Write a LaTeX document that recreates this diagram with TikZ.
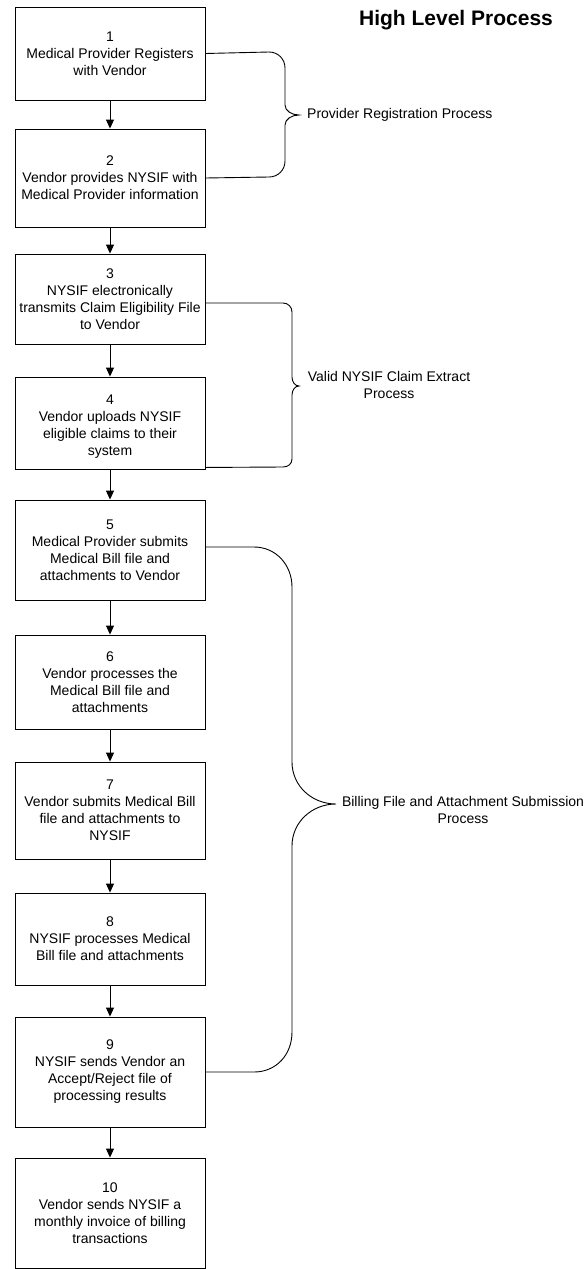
\documentclass[tikz,border=0pt]{standalone}
\usepackage{fontspec}
\setmainfont{Liberation Sans}
\usetikzlibrary{arrows.meta,calc}
\begin{document}
\begin{tikzpicture}[x=1pt,y=-1pt,
  stepbox/.style={draw, line width=0.9pt, minimum width=190pt, inner sep=0pt, align=center, font=\fontsize{14}{17}\selectfont},
  flow/.style={line width=0.9pt, -{Triangle[length=9pt,width=8pt]}},
  brace/.style={line width=0.9pt},
  lbl/.style={font=\fontsize{14}{17}\selectfont, align=center, inner sep=0pt}]
\useasboundingbox (0,0) rectangle (586,1269);

\node[font=\fontsize{21}{25}\selectfont\bfseries, inner sep=0pt] (title) at (456,20) {High Level Process};

\node[stepbox, minimum height=93pt]  (b1)  at (110,53.5) {1\\Medical Provider Registers\\with Vendor};
\node[stepbox, minimum height=98pt]  (b2)  at (110,178)  {2\\Vendor provides NYSIF with\\Medical Provider information};
\node[stepbox, minimum height=90pt]  (b3)  at (110,299)  {3\\NYSIF electronically\\transmits Claim Eligibility File\\to Vendor};
\node[stepbox, minimum height=92pt]  (b4)  at (110,423)  {\mbox{}\\4\\Vendor uploads NYSIF\\eligible claims to their\\system};
\node[stepbox, minimum height=100pt] (b5)  at (110,550)  {5\\Medical Provider submits\\Medical Bill file and\\attachments to Vendor};
\node[stepbox, minimum height=94pt]  (b6)  at (110,682)  {6\\Vendor processes the\\Medical Bill file and\\attachments};
\node[stepbox, minimum height=97pt]  (b7)  at (110,810.5){7\\Vendor submits Medical Bill\\file and attachments to\\NYSIF};
\node[stepbox, minimum height=92pt]  (b8)  at (110,939)  {8\\NYSIF processes Medical\\Bill file and attachments};
\node[stepbox, minimum height=110pt] (b9)  at (110,1072) {9\\NYSIF sends Vendor an\\Accept/Reject file of\\processing results};
\node[stepbox, minimum height=110pt] (b10) at (110,1213) {10\\Vendor sends NYSIF a\\monthly invoice of billing\\transactions};

\foreach \a/\b in {b1/b2,b2/b3,b3/b4,b4/b5,b5/b6,b6/b7,b7/b8,b8/b9,b9/b10}
  \draw[flow] (\a) -- (\b);

% brace 1
\draw[brace] (b1.east) -- (269,52) .. controls (278,52) and (285,59) .. (285,68)
  -- (285,105) .. controls (285,111) and (292,115) .. (299,115)
  .. controls (292,115) and (285,119) .. (285,125)
  -- (285,161) .. controls (285,170) and (278,177) .. (269,177) -- (b2.east);
\node[lbl, anchor=west] (l1) at (307,115) {Provider Registration Process};

% brace 2
\coordinate (t2) at ($(b3.east)+(0,4)$);
\coordinate (e2) at ($(b4.south east)+(0,-2)$);
\draw[brace] (t2) -- (283,303) .. controls (288,303) and (292,307) .. (292,312)
  -- (292,377) .. controls (292,382) and (295,386) .. (299,386)
  .. controls (295,386) and (292,390) .. (292,395)
  -- (292,459) .. controls (292,464) and (288,467) .. (283,467) -- (e2);
\node[lbl] (l2) at (389,385) {Valid NYSIF Claim Extract\\Process};

% brace 3
\coordinate (t3) at ($(b5.east)+(0,-3)$);
\draw[brace] (t3) -- (254,547) .. controls (276,547) and (292,565) .. (292,587)
  -- (292,762) .. controls (292,786) and (312,804) .. (336,804)
  .. controls (312,804) and (292,822) .. (292,846)
  -- (292,1032) .. controls (292,1055) and (276,1072) .. (254,1072) -- (b9.east);
\node[lbl] (l3) at (463,810) {Billing File and Attachment Submission\\Process};
\end{tikzpicture}
\end{document}
